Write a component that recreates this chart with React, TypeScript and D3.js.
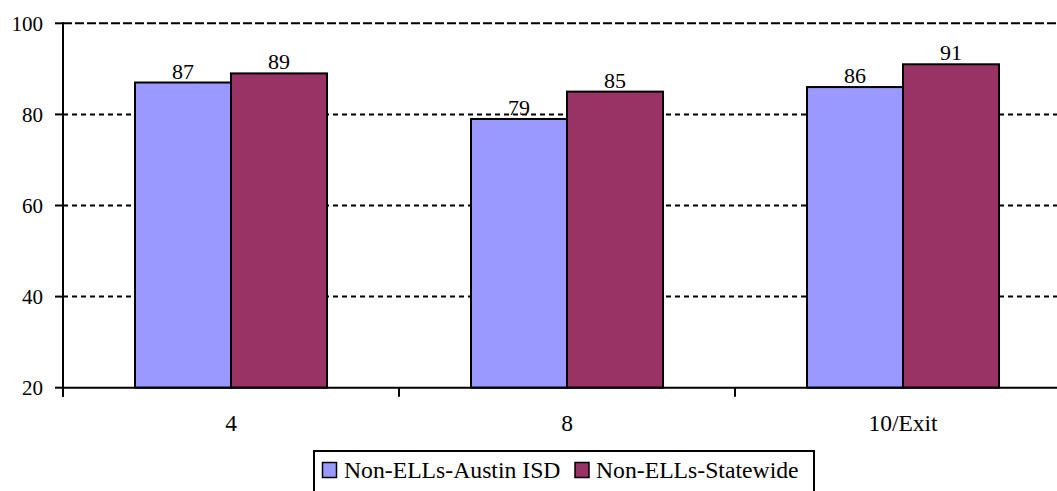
import React from "react";
import * as d3 from "d3";

const categories = ["4", "8", "10/Exit"];
const seriesNames = ["Non-ELLs-Austin ISD", "Non-ELLs-Statewide"];
const austinValues = [87, 79, 86];
const statewideValues = [89, 85, 91];
const yTicks = [20, 40, 60, 80, 100];
const colors = ["#9999FF", "#993366"];

const W = 1057;
const H = 491;
const left = 63;
const right = 1071;
const top = 23.3;
const bottom = 387.7;
const FONT = "Liberation Serif";

export default function App() {
  const x = d3.scaleBand<string>().domain(categories).range([left, right]).paddingInner(0).paddingOuter(0);
  const inner = d3.scaleBand<string>().domain(seriesNames).range([0, x.bandwidth()]).paddingInner(0).paddingOuter(0.75);
  const y = d3.scaleLinear().domain([20, 100]).range([bottom, top]);
  const seriesVals = [austinValues, statewideValues];
  const bw = inner.bandwidth();

  const boundaries = categories.map((c) => x(c)!).concat([right]);

  return (
    <svg width={W} height={H} style={{ position: "absolute", left: 0, top: 0, background: "#fff" }}>
      {yTicks.filter((t) => t > 20).map((t) => (
        <line key={t} x1={left} x2={W} y1={y(t)} y2={y(t)} stroke="#000" strokeWidth={2}
          strokeDasharray={t === 100 ? "9,3" : "5,4"} />
      ))}
      {categories.map((c, ci) =>
        seriesNames.map((s, si) => {
          const v = seriesVals[si][ci];
          const bx = x(c)! + inner(s)!;
          return (
            <g key={c + s}>
              <rect x={bx} y={y(v)} width={bw} height={bottom - y(v)} fill={colors[si]} stroke="#000" strokeWidth={2} />
              <text x={bx + bw / 2} y={y(v) - 4} textAnchor="middle" style={{ fontFamily: FONT, fontSize: 22 }} fill="#000">{v}</text>
            </g>
          );
        })
      )}
      <line x1={left} x2={left} y1={top - 1} y2={bottom + 9} stroke="#000" strokeWidth={2} />
      <line x1={left} x2={W} y1={bottom} y2={bottom} stroke="#000" strokeWidth={2} />
      {yTicks.map((t) => (
        <g key={t}>
          <line x1={left - 8} x2={left} y1={y(t)} y2={y(t)} stroke="#000" strokeWidth={2} />
          <text x={43} y={y(t)} dy="0.35em" textAnchor="end" style={{ fontFamily: FONT, fontSize: 21 }} fill="#000">{t}</text>
        </g>
      ))}
      {boundaries.map((b, i) => (
        <line key={i} x1={b} x2={b} y1={bottom} y2={bottom + 9} stroke="#000" strokeWidth={2} />
      ))}
      {categories.map((c) => (
        <text key={c} x={x(c)! + x.bandwidth() / 2} y={431} textAnchor="middle" style={{ fontFamily: FONT, fontSize: 23.5 }} fill="#000">{c}</text>
      ))}
      <rect x={314} y={451} width={500} height={50} fill="#fff" stroke="#000" strokeWidth={2} />
      {seriesNames.map((s, i) => {
        const lx = i === 0 ? 322.5 : 575;
        return (
          <g key={s}>
            <rect x={lx} y={462.5} width={14} height={15} fill={colors[i]} stroke="#000" strokeWidth={1.5} />
            <text x={i === 0 ? 344 : 596} y={478} style={{ fontFamily: FONT, fontSize: 23.7 }} fill="#000">{s}</text>
          </g>
        );
      })}
    </svg>
  );
}
